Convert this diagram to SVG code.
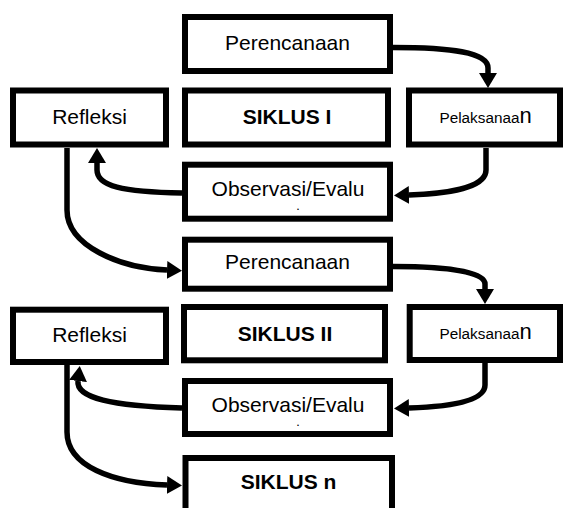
<svg xmlns="http://www.w3.org/2000/svg" width="563" height="508" viewBox="0 0 563 508">
<defs>
<style>
.box{fill:#fff;stroke:#000;stroke-width:6}
.t{font-family:"Liberation Sans",Arial,sans-serif;font-size:21px;fill:#000;text-anchor:middle}
.b{font-weight:bold}
.s{font-family:"Liberation Sans",Arial,sans-serif;font-size:15.3px;fill:#000}
.n{font-size:22px}
.dot{font-family:"Liberation Sans",Arial,sans-serif;font-size:9px;font-weight:bold;fill:#000;text-anchor:middle}
.c{fill:none;stroke:#000;stroke-width:5.5}
</style>
<marker id="ah" viewBox="0 0 15 18" refX="0" refY="9" markerWidth="15" markerHeight="18" markerUnits="userSpaceOnUse" orient="auto">
<path d="M0,0 L15,9 L0,18 z" fill="#000"/>
</marker>
</defs>
<rect width="563" height="508" fill="#fff"/>
<g id="connectors">
<path class="c" d="M393,47.5 C450,47.5 488,52 488,68 L488,73" marker-end="url(#ah)"/>
<path class="c" d="M486,148 L486,170 C486,189 442,194 409,195" marker-end="url(#ah)"/>
<path class="c" d="M182,193 C122,192 97,186 97,170 L97,163" marker-end="url(#ah)"/>
<path class="c" d="M67,148 L67,210 C67,246 120,268 167,270" marker-end="url(#ah)"/>
<path class="c" d="M393,266.5 C450,266.5 485,272 485,284 L485,289" marker-end="url(#ah)"/>
<path class="c" d="M485,363 L485,385 C485,403 442,407 409,408" marker-end="url(#ah)"/>
<path class="c" d="M182,408 C112,406 76,398 78,381" marker-end="url(#ah)"/>
<path class="c" d="M67,365 L67,432 C67,466 112,483 167,485" marker-end="url(#ah)"/>
</g>
<g id="perencanaan1"><rect class="box" x="185" y="17" width="205" height="54"/><text class="t" x="287.5" y="49.5">Perencanaan</text></g>
<g id="refleksi1"><rect class="box" x="13" y="90.5" width="153" height="54"/><text class="t" x="89.5" y="124">Refleksi</text></g>
<g id="siklus1"><rect class="box" x="185" y="90.5" width="203" height="54"/><text class="t b" x="287" y="123.5">SIKLUS I</text></g>
<g id="pelaksanaan1"><rect class="box" x="409" y="90.5" width="151" height="54"/><text class="s" x="439.5" y="122.7">Pelaksanaa<tspan class="n">n</tspan></text></g>
<g id="observasi1"><rect class="box" x="185" y="164.7" width="205" height="54"/><text class="t" x="288" y="196">Observasi/Evalu</text><text class="dot" x="298" y="210">.</text></g>
<g id="perencanaan2"><rect class="box" x="185" y="239.7" width="205" height="49"/><text class="t" x="287.5" y="268.5">Perencanaan</text></g>
<g id="refleksi2"><rect class="box" x="13" y="309.7" width="153" height="52.3"/><text class="t" x="89.5" y="341.5">Refleksi</text></g>
<g id="siklus2"><rect class="box" x="184" y="307" width="201" height="53.3"/><text class="t b" x="285" y="341">SIKLUS II</text></g>
<g id="pelaksanaan2"><rect class="box" x="409.7" y="307" width="150.3" height="53"/><text class="s" x="439.5" y="339">Pelaksanaa<tspan class="n">n</tspan></text></g>
<g id="observasi2"><rect class="box" x="185" y="381" width="205" height="53"/><text class="t" x="288" y="412">Observasi/Evalu</text><text class="dot" x="298" y="426">.</text></g>
<g id="siklusn"><rect class="box" x="185.5" y="458" width="206.5" height="60"/><text class="t b" x="288.5" y="489">SIKLUS n</text></g>
</svg>
